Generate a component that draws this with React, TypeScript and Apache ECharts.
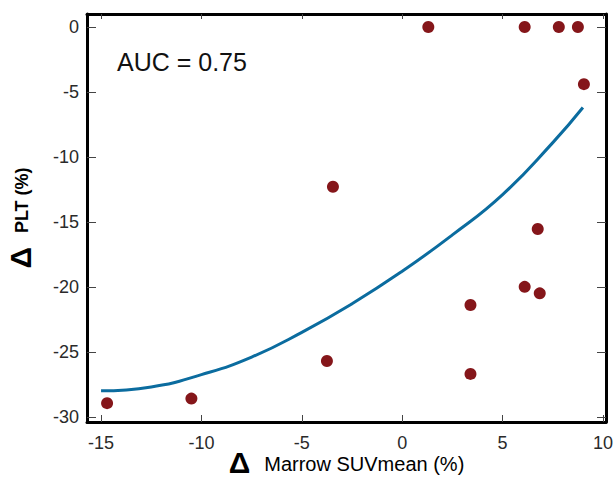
import React, { useEffect, useRef } from "react";
import * as echarts from "echarts";

// Scatter points: Δ Marrow SUVmean (%) vs Δ PLT (%)
const pointX = [-14.7, -10.5, -3.75, -3.45, 1.3, 3.4, 3.4, 6.1, 6.75, 6.85, 6.1, 7.8, 8.75, 9.05];
const pointY = [-28.95, -28.6, -25.7, -12.3, 0, -21.4, -26.7, -20.0, -15.55, -20.5, 0, 0, 0, -4.4];

// Fitted curve
const curveX = [-15, -12.5, -10, -7.5, -5, -2.5, 0, 2.5, 5, 7.5, 9];
const curveY = [-28.0, -27.7, -26.75, -25.4, -23.5, -21.3, -18.8, -16.0, -12.9, -8.9, -6.2];

const xTicks = [-15, -10, -5, 0, 5, 10];
const yTicks = [0, -5, -10, -15, -20, -25, -30];
const xRange = [-15.7, 10.15];
const yRange = [-30.4, 1.0];
const aucLabel = "AUC = 0.75";
const xTitle = "Marrow SUVmean (%)";
const yTitle = "PLT (%)";

export default function App() {
  const ref = useRef<HTMLDivElement>(null);
  useEffect(() => {
    if (!ref.current) return;
    const chart = echarts.init(ref.current, null, { renderer: "svg" });
    const font = "'Liberation Sans', Arial, sans-serif";
    const frame = { show: true, onZero: false, lineStyle: { color: "#000", width: 3 } };
    const tick = (vals: number[], len: number) => ({
      show: true,
      inside: true,
      length: len,
      customValues: vals,
      lineStyle: { color: "#444", width: 1 },
    });
    const label = (vals: number[]) => ({
      show: true,
      customValues: vals,
      fontSize: 18,
      color: "#2a2a2a",
      fontFamily: font,
      margin: 10,
    });
    chart.setOption({
      animation: false,
      grid: { left: 87, right: 10, top: 14, bottom: 57, containLabel: false, outerBoundsMode: "none" },
      xAxis: [
        {
          type: "value",
          min: xRange[0],
          max: xRange[1],
          position: "bottom",
          axisLine: frame,
          axisTick: tick(xTicks, 7),
          axisLabel: { ...label(xTicks), margin: 12 },
          splitLine: { show: false },
          name: "{d|Δ}{t|" + xTitle + "}",
          nameLocation: "middle",
          nameGap: 25,
          nameMoveOverlap: false,
          nameTextStyle: {
            verticalAlign: "top",
            rich: {
              d: { fontSize: 30, fontWeight: "bold", fontFamily: font, color: "#000", padding: [0, 14, 0, 0] },
              t: { fontSize: 20, fontFamily: font, color: "#000", padding: [4, 0, 0, 0] },
            },
          },
        },
        {
          type: "value",
          min: xRange[0],
          max: xRange[1],
          position: "top",
          axisLine: frame,
          axisTick: tick(xTicks, 5),
          axisLabel: { show: false },
          splitLine: { show: false },
        },
      ],
      yAxis: [
        {
          type: "value",
          min: yRange[0],
          max: yRange[1],
          position: "left",
          axisLine: frame,
          axisTick: tick(yTicks, 9),
          axisLabel: { ...label(yTicks), margin: 8 },
          splitLine: { show: false },
          name: "{d|Δ}{t|" + yTitle + "}",
          nameLocation: "middle",
          nameGap: 52,
          nameRotate: 90,
          nameMoveOverlap: false,
          nameTextStyle: {
            rich: {
              d: { fontSize: 30, fontWeight: "bold", fontFamily: font, color: "#000", padding: [0, 14, 0, 0] },
              t: { fontSize: 18, fontWeight: "bold", fontFamily: font, color: "#000", padding: [4, 0, 0, 0] },
            },
          },
        },
        {
          type: "value",
          min: yRange[0],
          max: yRange[1],
          position: "right",
          axisLine: frame,
          axisTick: tick(yTicks, 9),
          axisLabel: { show: false },
          splitLine: { show: false },
        },
      ],
      series: [
        {
          type: "line",
          xAxisIndex: 0,
          yAxisIndex: 0,
          data: curveX.map((x, i) => [x, curveY[i]]),
          smooth: true,
          showSymbol: false,
          symbol: "none",
          lineStyle: { color: "#0b6c9f", width: 3 },
          z: 2,
        },
        {
          type: "scatter",
          xAxisIndex: 0,
          yAxisIndex: 0,
          data: pointX.map((x, i) => [x, pointY[i]]),
          symbolSize: 12,
          itemStyle: { color: "#85161a", opacity: 1 },
          z: 3,
        },
      ],
      graphic: [
        {
          type: "text",
          left: 117,
          top: 49,
          style: { text: aucLabel, font: "25px 'Liberation Sans', Arial, sans-serif", fill: "#111" },
        },
      ],
    });
    return () => chart.dispose();
  }, []);
  return (
    <div
      ref={ref}
      style={{ position: "fixed", left: 0, top: 0, width: 616, height: 479, background: "#fff" }}
    />
  );
}
